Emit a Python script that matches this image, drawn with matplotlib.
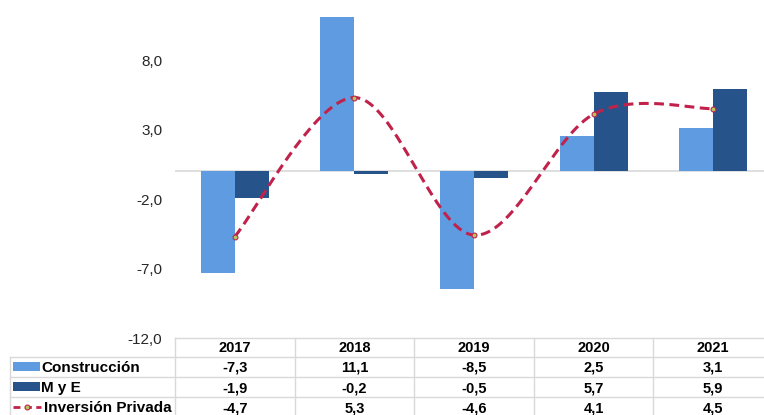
import numpy as np
import matplotlib
matplotlib.use("Agg")
import matplotlib.pyplot as plt
from matplotlib.patches import Rectangle
from matplotlib.lines import Line2D

years = ["2017", "2018", "2019", "2020", "2021"]
construccion = [-7.3, 11.1, -8.5, 2.5, 3.1]
mye = [-1.9, -0.2, -0.5, 5.7, 5.9]
inversion = [-4.7, 5.3, -4.6, 4.1, 4.5]
row_names = ["Construcción", "M y E", "Inversión Privada"]
yticks = [-12, -7, -2, 3, 8]

c_light = "#5e9be0"
c_dark = "#25538a"
c_line = "#c0224b"
c_marker = "#b4c85a"
c_grid = "#d9d9d9"

plt.rcParams["font.family"] = ["Liberation Sans", "DejaVu Sans"]


def smooth(xs, ys, n=40):
    # excel-style smoothed line: cubic bezier through each pair of points
    pts = np.column_stack([xs, ys]).astype(float)
    out = []
    for i in range(len(pts) - 1):
        p0 = pts[max(i - 1, 0)]
        p1 = pts[i]
        p2 = pts[i + 1]
        p3 = pts[min(i + 2, len(pts) - 1)]
        c1 = p1 + (p2 - p0) / 6
        c2 = p2 - (p3 - p1) / 6
        t = np.linspace(0, 1, n)[:, None]
        seg = (1 - t) ** 3 * p1 + 3 * (1 - t) ** 2 * t * c1 + 3 * (1 - t) * t ** 2 * c2 + t ** 3 * p2
        out.append(seg if i == 0 else seg[1:])
    return np.vstack(out)


W, H = 764, 415
fig = plt.figure(figsize=(W / 100, H / 100), dpi=100)

# plot area in pixels
left_px, right_px = 175, 773
bottom_px = 338
ymin, ymax = -12, 13
px_per_unit = 13.9
top_px = bottom_px - (ymax - ymin) * px_per_unit

ax = fig.add_axes([left_px / W, (H - bottom_px) / H,
                   (right_px - left_px) / W, (bottom_px - top_px) / H])
x = np.arange(len(years))
bw = 0.285
ax.bar(x - bw / 2, construccion, bw, color=c_light, zorder=2)
ax.bar(x + bw / 2, mye, bw, color=c_dark, zorder=2)
ax.axhline(0, color=c_grid, lw=1.2, zorder=1)

curve = smooth(x, inversion)
ax.plot(curve[:, 0], curve[:, 1], color=c_line, lw=2.2, dashes=(3.2, 1.8), zorder=3)
ax.plot(x, inversion, ls="none", marker="o", ms=3.5, mfc=c_marker, mec=c_line, mew=0.8, zorder=4)

ax.set_xlim(-0.5, len(years) - 0.5)
ax.set_ylim(ymin, ymax)
ax.set_yticks(yticks)
ax.set_yticklabels([f"{v:.1f}".replace(".", ",") for v in yticks])
ax.tick_params(axis="y", length=0, pad=9, labelsize=11, labelcolor="#262626")
ax.set_xticks([])
for s in ax.spines.values():
    s.set_visible(False)

# data table under the chart, drawn in pixel coordinates
tax = fig.add_axes([0, 0, 1, (H - bottom_px) / H])
tax.set_xlim(0, W)
tax.set_ylim(H, bottom_px)
tax.axis("off")

col_w = (right_px - left_px) / len(years)
table_left = 10
row_tops = [bottom_px, 357, 377, 397, 417]

grid_kw = dict(color=c_grid, lw=1, clip_on=False)
tax.plot([left_px, right_px], [row_tops[0]] * 2, **grid_kw)
for yy in row_tops[1:]:
    tax.plot([table_left, right_px], [yy] * 2, **grid_kw)
tax.plot([table_left] * 2, [row_tops[1], row_tops[-1]], **grid_kw)
for i in range(len(years) + 1):
    xx = left_px + i * col_w
    tax.plot([xx] * 2, [row_tops[0], row_tops[-1]], **grid_kw)

txt_kw = dict(ha="center", va="center", fontsize=10.5, fontweight="bold", color="black")
for i, yr in enumerate(years):
    cx = left_px + (i + 0.5) * col_w
    tax.text(cx, (row_tops[0] + row_tops[1]) / 2 + 1, yr, **txt_kw)
    for r, series in enumerate([construccion, mye, inversion]):
        cy = (row_tops[r + 1] + row_tops[r + 2]) / 2 + 1
        tax.text(cx, cy, f"{series[i]:.1f}".replace(".", ","), **txt_kw)

# row labels with legend keys
for r, name in enumerate(row_names):
    cy = (row_tops[r + 1] + row_tops[r + 2]) / 2
    if r < 2:
        tax.add_patch(Rectangle((13, cy - 4.5), 27, 9, color=[c_light, c_dark][r], lw=0))
        tx = 41
    else:
        tax.add_line(Line2D([13, 41], [cy, cy], color=c_line, lw=2, dashes=(2.5, 1.6)))
        tax.plot([27], [cy], marker="o", ms=3.5, mfc=c_marker, mec=c_line, mew=0.8)
        tx = 44
    tax.text(tx, cy + 1, name, ha="left", va="center", fontsize=11,
             fontweight="bold", color="black")

fig.savefig("out.png", dpi=100)
